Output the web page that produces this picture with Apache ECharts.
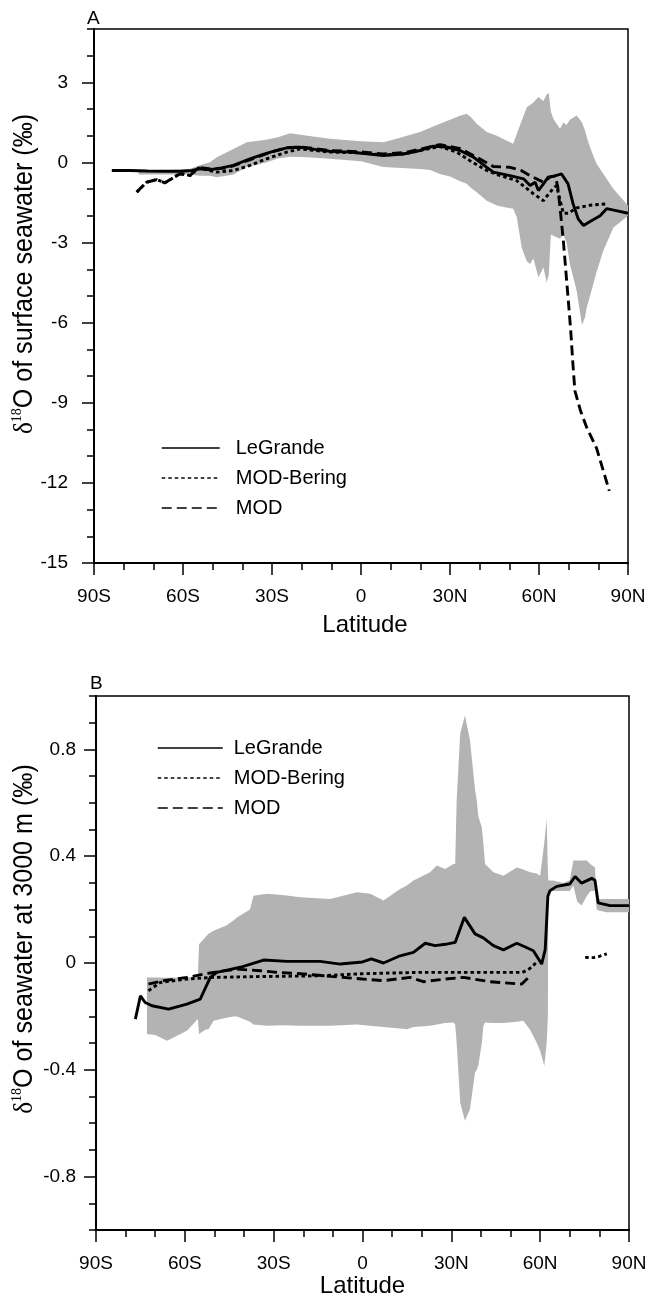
<!DOCTYPE html>
<html>
<head>
<meta charset="utf-8">
<script src="https://cdn.jsdelivr.net/npm/echarts@6/dist/echarts.min.js"></script>
<style>
html, body { margin: 0; padding: 0; background: #fff; }
#main { width: 657px; height: 1304px; }
</style>
</head>
<body>
<div id="main"></div>
<script>
// latitude axis (negative = south)
const xTickValues = [-90, -60, -30, 0, 30, 60, 90];
const xTickLabels = ['90S', '60S', '30S', '0', '30N', '60N', '90N'];
const aYTickValues = [-15, -12, -9, -6, -3, 0, 3];
const bYTickValues = [-0.8, -0.4, 0, 0.4, 0.8];
const seriesNames = ['LeGrande', 'MOD-Bering', 'MOD'];

// panel A: surface seawater d18O, [lat, value]
const aLeGrande = [[-84,-0.30],[-78,-0.30],[-72,-0.32],[-66,-0.33],[-61,-0.33],[-57,-0.30],[-54.3,-0.24],[-50.9,-0.27],[-47,-0.2],[-43,-0.11],[-37.4,0.14],[-33,0.3],[-29.6,0.42],[-25,0.55],[-20.6,0.57],[-15,0.48],[-10.5,0.42],[-3.7,0.39],[2,0.33],[7.5,0.26],[14.3,0.32],[19.9,0.45],[24.4,0.61],[28.9,0.58],[33.4,0.45],[37.9,0.2],[42.4,-0.18],[44.6,-0.36],[50.2,-0.49],[54.8,-0.61],[57,-0.86],[58.7,-0.74],[59.8,-1.05],[61.5,-0.8],[63.1,-0.55],[65.4,-0.5],[67.6,-0.43],[69.8,-0.8],[71.5,-1.55],[73.2,-2.11],[75,-2.36],[77.8,-2.17],[80.6,-1.99],[82.8,-1.73],[86,-1.8],[90,-1.9]];
const aMODBering = [[-75.6,-1.11],[-72.3,-0.74],[-68.9,-0.64],[-66.1,-0.76],[-63.8,-0.61],[-61,-0.4],[-57.6,-0.49],[-54.8,-0.2],[-48.7,-0.36],[-43,-0.3],[-37.4,-0.11],[-31.8,0.14],[-25,0.39],[-20.6,0.51],[-10.5,0.39],[0,0.36],[7.5,0.28],[15,0.33],[20,0.45],[26.6,0.6],[32.2,0.39],[36.7,0.07],[42.4,-0.3],[45.8,-0.45],[52.5,-0.68],[58.1,-1.17],[61.5,-1.43],[63.7,-1.11],[65.9,-0.86],[68.2,-1.9],[69.9,-1.9],[72.7,-1.7],[77.2,-1.6],[82.8,-1.55]];
const aMOD = [[-75.6,-1.11],[-72.3,-0.74],[-68.9,-0.64],[-66.1,-0.76],[-63.8,-0.61],[-61,-0.43],[-57.6,-0.49],[-54.8,-0.18],[-50,-0.25],[-45,-0.2],[-40,0.0],[-35,0.2],[-30,0.4],[-25,0.55],[-20,0.58],[-10.5,0.45],[0,0.4],[7.5,0.32],[15,0.38],[20,0.5],[26.6,0.67],[33.4,0.52],[39,0.2],[44.6,-0.15],[50.2,-0.18],[54,-0.3],[57,-0.49],[61.5,-0.74],[63.7,-0.55],[65.5,-0.5],[66.3,-0.9],[67.1,-1.7],[68.2,-2.93],[69.9,-5.2],[70.7,-6.3],[71.4,-7.5],[72.1,-8.55],[74,-9.3],[76,-9.9],[79.4,-10.7],[83.7,-12.3]];
// grey range, [lat, low, high]
const aBand = [[-75,-0.45,-0.28],[-65,-0.45,-0.28],[-58,-0.45,-0.25],[-54.3,-0.5,-0.1],[-50.9,-0.5,0.01],[-48.6,-0.55,0.2],[-43,-0.45,0.51],[-38.5,-0.17,0.76],[-32,0.0,0.85],[-28,0.15,0.95],[-23.9,0.22,1.1],[-18,0.2,1.0],[-10.5,0.14,0.89],[0,0.05,0.8],[7.5,-0.17,0.76],[12,-0.2,0.89],[19.9,-0.24,1.14],[23.3,-0.28,1.3],[26.6,-0.43,1.45],[30,-0.52,1.6],[33.4,-0.7,1.75],[35.6,-0.8,1.83],[37,-0.95,1.7],[39,-1.11,1.45],[42.4,-1.43,1.14],[45.8,-1.61,1.0],[48.5,-1.68,0.85],[51.3,-1.73,0.7],[52.5,-2.05,1.07],[54.2,-3.2,1.57],[55.9,-3.7,2.07],[57,-3.8,2.15],[58.1,-3.6,2.25],[59.8,-4.3,2.45],[61.5,-3.93,2.3],[62.6,-4.49,2.55],[63.3,-4.2,2.6],[64,-2.7,1.9],[65,-2.75,1.6],[67.1,-2.86,1.26],[68.2,-2.7,1.5],[69.3,-3.0,1.4],[70.4,-3.8,1.6],[72.7,-4.8,1.76],[74.5,-6.1,1.5],[75.5,-5.8,1.2],[76.1,-5.43,0.95],[77.2,-5.0,0.57],[78.3,-4.55,0.25],[79.4,-4.1,-0.05],[81.7,-3.3,-0.43],[85.1,-2.43,-0.99],[90,-1.99,-1.61]];

// panel B: seawater d18O at 3000 m
const bLeGrande = [[-76.7,-0.21],[-75,-0.123],[-73.4,-0.148],[-71.1,-0.16],[-65.5,-0.173],[-59.3,-0.154],[-54.8,-0.135],[-51.4,-0.054],[-49.2,-0.035],[-45,-0.025],[-41.3,-0.016],[-33.4,0.011],[-25.5,0.006],[-14.3,0.006],[-7.5,-0.004],[0,0.004],[3,0.015],[7.1,0.0],[12.7,0.027],[17.2,0.04],[21.2,0.074],[24.5,0.065],[28,0.07],[31.3,0.077],[34.4,0.171],[38,0.109],[40.8,0.094],[44.2,0.065],[47.6,0.049],[52.1,0.074],[55,0.06],[57.7,0.046],[60.5,-0.004],[61.7,0.05],[62.6,0.25],[63.3,0.271],[65.6,0.287],[70,0.296],[71.8,0.324],[74,0.299],[77.4,0.317],[78.5,0.31],[79.6,0.225],[83.6,0.215],[90,0.215]];
const bMODBering = [[-72.3,-0.104],[-68.3,-0.073],[-59.3,-0.06],[-50.3,-0.054],[-36.8,-0.051],[-14.3,-0.048],[0,-0.04],[20,-0.035],[40,-0.035],[54,-0.035],[56,-0.025],[57.7,-0.01],[59,0.008]];
const bMODBeringNorth = [[75.2,0.021],[78,0.02],[80,0.025],[82.5,0.034]];
const bMOD = [[-72.3,-0.079],[-67.2,-0.066],[-59.3,-0.054],[-50.3,-0.035],[-42.4,-0.023],[-34.5,-0.029],[-28.9,-0.035],[-19.9,-0.041],[-10.7,-0.05],[0,-0.06],[7.1,-0.066],[16.1,-0.054],[20.6,-0.07],[28,-0.06],[34.1,-0.054],[43.1,-0.07],[53.8,-0.079],[56.6,-0.048]];
const bBand = [[-72.8,-0.266,-0.054],[-70,-0.27,-0.054],[-66,-0.291,-0.055],[-59.3,-0.254,-0.054],[-55.6,-0.21,-0.05],[-55.2,-0.266,0.07],[-53.1,-0.25,0.096],[-52,-0.248,0.11],[-50.3,-0.216,0.121],[-46,-0.205,0.14],[-43.6,-0.2,0.159],[-42.4,-0.2,0.17],[-38,-0.22,0.2],[-36.8,-0.23,0.252],[-32.3,-0.235,0.259],[-27,-0.233,0.255],[-21,-0.235,0.246],[-10.9,-0.235,0.24],[-1.9,-0.23,0.265],[2.6,-0.235,0.259],[7.1,-0.24,0.234],[12.7,-0.245,0.277],[15,-0.248,0.29],[17.2,-0.24,0.309],[22.8,-0.235,0.34],[25.1,-0.23,0.365],[27.9,-0.225,0.352],[30.7,-0.223,0.371],[31.3,-0.23,0.371],[31.8,-0.3,0.609],[33,-0.523,0.86],[34.6,-0.591,0.927],[36.3,-0.547,0.834],[38,-0.41,0.65],[38.6,-0.4,0.609],[39.1,-0.385,0.55],[40.3,-0.3,0.508],[40.8,-0.235,0.45],[41.4,-0.223,0.371],[44.2,-0.225,0.34],[47.6,-0.225,0.327],[52.1,-0.22,0.358],[54.3,-0.216,0.35],[56.6,-0.25,0.34],[58.8,-0.298,0.335],[60,-0.33,0.327],[61.4,-0.385,0.45],[62.2,-0.3,0.54],[62.6,-0.2,0.35],[62.75,0.27,0.31],[63.3,0.265,0.309],[64.4,0.27,0.309],[67.8,0.27,0.3],[70,0.27,0.31],[71.2,0.29,0.384],[72.5,0.23,0.384],[74,0.215,0.384],[75.7,0.25,0.384],[77,0.27,0.37],[78.5,0.27,0.358],[79.1,0.2,0.24],[80,0.196,0.24],[82.5,0.19,0.24],[90,0.19,0.24]];

const font = 'Liberation Sans, Arial, sans-serif';
const serif = 'Liberation Serif, Times New Roman, serif';
const black = '#000';

function pickLabel(values, labels) {
    return function (v) {
        for (let i = 0; i < values.length; i++) {
            if (Math.abs(values[i] - v) < 1e-6) return labels ? labels[i] : String(values[i]);
        }
        return '';
    };
}

function xAxisFor(grid, gap, pad, margin) {
    return {
        type: 'value', gridIndex: grid, min: -90, max: 90, interval: 30,
        name: 'Latitude', nameLocation: 'middle', nameGap: gap,
        nameTextStyle: { fontSize: 24, color: black, fontFamily: font, padding: [0, 0, 0, pad] },
        axisLine: { onZero: false, lineStyle: { color: black, width: 2 } },
        axisTick: { length: 12, lineStyle: { color: black, width: 1.5 } },
        minorTick: { show: true, splitNumber: 3, length: 7, lineStyle: { color: black, width: 1.5 } },
        axisLabel: { fontSize: 19, color: black, fontFamily: font, margin: margin,
            formatter: pickLabel(xTickValues, xTickLabels) },
        splitLine: { show: false }
    };
}

function yAxesFor(grid, min, max, step, labelled, margin) {
    return [{
        type: 'value', gridIndex: grid, min: min, max: max, interval: step, position: 'left',
        axisLine: { show: true, onZero: false, lineStyle: { color: black, width: 2 } },
        axisTick: { show: true, length: 7, lineStyle: { color: black, width: 1.5 } },
        axisLabel: { fontSize: 19, color: black, fontFamily: font, margin: margin,
            formatter: pickLabel(labelled) },
        splitLine: { show: false }
    }, {
        // longer ticks at labelled values
        type: 'value', gridIndex: grid, min: min, max: max, position: 'left',
        axisLine: { show: false, onZero: false },
        axisTick: { show: true, length: 12, customValues: labelled, lineStyle: { color: black, width: 1.5 } },
        axisLabel: { show: false },
        splitLine: { show: false }
    }];
}

function bandSeries(band, xi, yi) {
    return {
        type: 'custom', xAxisIndex: xi, yAxisIndex: yi, silent: true, z: 1,
        data: [[band[0][0], band[0][1]]],
        renderItem: function (params, api) {
            const top = band.map(d => api.coord([d[0], d[2]]));
            const bot = band.map(d => api.coord([d[0], d[1]])).reverse();
            return { type: 'polygon', shape: { points: top.concat(bot) }, style: { fill: '#b3b3b3' } };
        }
    };
}

function lineSeries(name, data, xi, yi, type) {
    return {
        name: name, type: 'line', xAxisIndex: xi, yAxisIndex: yi, data: data,
        symbol: 'none', showSymbol: false, silent: true, z: 3,
        itemStyle: { color: black },
        lineStyle: { color: black, width: 2.9, type: type }
    };
}

const solid = 'solid';
const dotted = [3.5, 3];
const dashed = [10, 5];

const yA = yAxesFor(0, -15, 5, 1, aYTickValues, 26);
const yB = yAxesFor(1, -1, 1, 0.1, bYTickValues, 20);

const legendBase = {
    orient: 'vertical', selectedMode: false, data: seriesNames,
    itemGap: 10, itemHeight: 14,
    itemStyle: { opacity: 0 },
    lineStyle: { width: 1.5 },
    textStyle: { fontSize: 20, lineHeight: 20, color: black, fontFamily: font }
};

function yTitle(text, x, y) {
    return {
        type: 'text', x: x, y: y, rotation: Math.PI / 2, scaleX: 0.93, silent: true,
        style: {
            text: text, align: 'center', verticalAlign: 'middle', fill: black,
            rich: {
                d: { fontSize: 27, fontFamily: serif, lineHeight: 30 },
                s: { fontSize: 15, fontFamily: serif, verticalAlign: 'top', lineHeight: 15 },
                t: { fontSize: 27, fontFamily: font, lineHeight: 30 }
            }
        }
    };
}

const option = {
    animation: false,
    backgroundColor: '#fff',
    grid: [
        { left: 94, top: 29, width: 534, height: 534, show: true, borderColor: black, borderWidth: 1.5, backgroundColor: 'transparent' },
        { left: 96, top: 696, width: 533, height: 534, show: true, borderColor: black, borderWidth: 1.5, backgroundColor: 'transparent' }
    ],
    xAxis: [xAxisFor(0, 50, 8, 24), xAxisFor(1, 41, 0, 24)],
    yAxis: [yA[0], yA[1], yB[0], yB[1]],
    legend: [
        Object.assign({}, legendBase, { left: 156, top: 433, itemWidth: 58,
            textStyle: Object.assign({}, legendBase.textStyle, { padding: [0, 0, 0, 11] }) }),
        Object.assign({}, legendBase, { left: 152, top: 733, itemWidth: 65,
            textStyle: Object.assign({}, legendBase.textStyle, { padding: [0, 0, 0, 6] }) })
    ],
    graphic: [
        { type: 'text', left: 87, top: 9, style: { text: 'A', fontSize: 19, fontFamily: font, fill: black } },
        { type: 'text', left: 90, top: 674, style: { text: 'B', fontSize: 19, fontFamily: font, fill: black } },
        yTitle('{d|δ}{s|18}{t|O of surface seawater (‰)}', 25, 274),
        yTitle('{d|δ}{s|18}{t|O of seawater at 3000 m (‰)}', 25, 939)
    ],
    series: [
        bandSeries(aBand, 0, 0),
        lineSeries('LeGrande', aLeGrande, 0, 0, solid),
        lineSeries('MOD-Bering', aMODBering, 0, 0, dotted),
        lineSeries('MOD', aMOD, 0, 0, dashed),
        bandSeries(bBand, 1, 2),
        lineSeries('LeGrande', bLeGrande, 1, 2, solid),
        lineSeries('MOD-Bering', bMODBering, 1, 2, dotted),
        lineSeries('MOD-Bering', bMODBeringNorth, 1, 2, dotted),
        lineSeries('MOD', bMOD, 1, 2, dashed)
    ]
};

const myChart = echarts.init(document.getElementById('main'));
myChart.setOption(option);
</script>
</body>
</html>
